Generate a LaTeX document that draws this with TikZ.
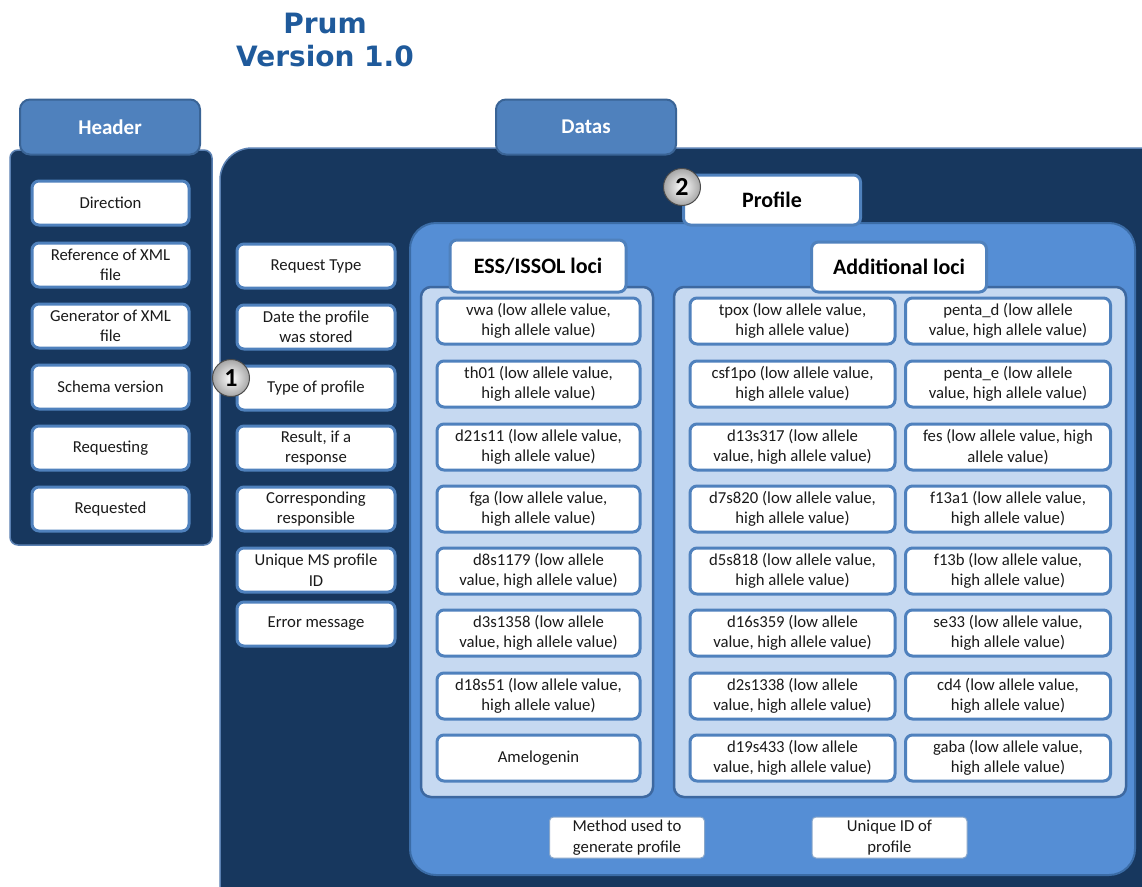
\documentclass[tikz,border=0pt]{standalone}
\usepackage{fontspec}
\setmainfont{Carlito}
\newfontfamily\titlefont{DejaVu Sans}
\definecolor{navy}{HTML}{17375E}
\definecolor{navyedge}{HTML}{5A80B2}
\definecolor{tabblue}{HTML}{4F81BD}
\definecolor{tabedge}{HTML}{3A6496}
\definecolor{profblue}{HTML}{558ED5}
\definecolor{profedge}{HTML}{3B6CA6}
\definecolor{subfill}{HTML}{C6D9F1}
\definecolor{subedge}{HTML}{3D68A0}
\definecolor{boxedge}{HTML}{4F81BD}
\definecolor{titleblue}{HTML}{1F5A9B}
\definecolor{txt}{HTML}{1A1A1A}
\tikzset{
  panel/.style={fill=navy, draw=navyedge, line width=1.5pt, rounded corners=8pt},
  tabbox/.style={fill=tabblue, draw=tabedge, line width=2pt, rounded corners=10pt, text=white, font=\bfseries\fontsize{21}{24}\selectfont},
  itembox/.style={fill=white, draw=boxedge, line width=3pt, rounded corners=7pt, align=center, text=txt, inner sep=0pt, font=\fontsize{16.7}{20.5}\selectfont},
  hbox/.style={itembox, minimum width=157pt, minimum height=44pt},
  dbox/.style={itembox, minimum width=158pt, minimum height=44pt},
  lbox/.style={itembox, minimum width=203pt, minimum height=46pt},
  lbox2/.style={itembox, minimum width=205pt, minimum height=46pt},
  headbox/.style={fill=white, draw=boxedge, line width=3pt, rounded corners=7pt, text=black, font=\bfseries\fontsize{22}{24}\selectfont},
  plainbox/.style={fill=white, draw=profedge!60, line width=1pt, rounded corners=4pt, align=center, text=txt, inner sep=0pt, font=\fontsize{16.7}{20.5}\selectfont, minimum width=155pt, minimum height=41pt},
  numball/.style={circle, minimum size=37pt, inner sep=0pt, draw=black!70, line width=1pt, inner color=white, outer color=black!35, font=\bfseries\fontsize{26}{27}\selectfont}
}
\begin{document}
\begin{tikzpicture}[x=1pt,y=-1pt]
\useasboundingbox (0,0) rectangle (1142,886);
\clip (0,0) rectangle (1142,886);
% title
\node[font=\titlefont\bfseries\fontsize{28}{33}\selectfont, text=titleblue, align=center] (title) at (325,40) {Prum\\Version 1.0};
% header panel
\draw[panel] (10,150) rectangle (212,545);
\node[tabbox, minimum width=180pt, minimum height=55pt] (htab) at (110,127) {Header};
\node[hbox] (h1) at (110.5,203) {Direction};
\node[hbox] (h2) at (110.5,265) {Reference of XML\\file};
\node[hbox] (h3) at (110.5,326) {Generator of XML\\file};
\node[hbox] (h4) at (110.5,387) {Schema version};
\node[hbox] (h5) at (110.5,448) {Requesting};
\node[hbox] (h6) at (110.5,509) {Requested};
% datas panel
\draw[panel, rounded corners=32pt] (220,148) rectangle (1180,930);
\node[tabbox, minimum width=180pt, minimum height=55pt] (dtab) at (586,127) {Datas};
\node[dbox] (d1) at (316,266) {Request Type};
\node[dbox] (d2) at (316,327) {Date the profile\\was stored};
\node[dbox] (d3) at (316,388) {Type of profile};
\node[dbox] (d4) at (316,448) {Result, if a\\response};
\node[dbox] (d5) at (316,509) {Corresponding\\responsible};
\node[dbox] (d6) at (316,570) {Unique MS profile\\ID};
\node[dbox] (d7) at (316,624) {Error message};
\node[numball] (n1) at (231,378) {1};
% profile panel
\draw[fill=profblue, draw=profedge, line width=2pt, rounded corners=26pt] (410,223) rectangle (1135,875);
\node[headbox, minimum width=177pt, minimum height=50pt] (prof) at (772,200) {Profile};
\node[numball] (n2) at (682,187) {2};
% sub panels
\draw[fill=subfill, draw=subedge, line width=2.5pt, rounded corners=10pt] (421,287) rectangle (653,797);
\draw[fill=subfill, draw=subedge, line width=2.5pt, rounded corners=10pt] (674,287) rectangle (1126,797);
\node[headbox, minimum width=176pt, minimum height=52pt] (ess) at (538,266) {ESS/ISSOL loci};
\node[headbox, minimum width=175pt, minimum height=50pt] (add) at (899,267) {Additional loci};
% ESS loci
\node[lbox] (e1) at (538.5,321) {vwa (low allele value,\\high allele value)};
\node[lbox] (e2) at (538.5,384) {th01 (low allele value,\\high allele value)};
\node[lbox] (e3) at (538.5,447) {d21s11 (low allele value,\\high allele value)};
\node[lbox] (e4) at (538.5,509) {fga (low allele value,\\high allele value)};
\node[lbox] (e5) at (538.5,571) {d8s1179 (low allele\\value, high allele value)};
\node[lbox] (e6) at (538.5,633) {d3s1358 (low allele\\value, high allele value)};
\node[lbox] (e7) at (538.5,696) {d18s51 (low allele value,\\high allele value)};
\node[lbox] (e8) at (538.5,758) {Amelogenin};
% Additional loci, left column
\node[lbox2] (a1) at (792.5,321) {tpox (low allele value,\\high allele value)};
\node[lbox2] (a2) at (792.5,384) {csf1po (low allele value,\\high allele value)};
\node[lbox2] (a3) at (792.5,447) {d13s317 (low allele\\value, high allele value)};
\node[lbox2] (a4) at (792.5,509) {d7s820 (low allele value,\\high allele value)};
\node[lbox2] (a5) at (792.5,571) {d5s818 (low allele value,\\high allele value)};
\node[lbox2] (a6) at (792.5,633) {d16s359 (low allele\\value, high allele value)};
\node[lbox2] (a7) at (792.5,696) {d2s1338 (low allele\\value, high allele value)};
\node[lbox2] (a8) at (792.5,758) {d19s433 (low allele\\value, high allele value)};
% Additional loci, right column
\node[lbox2] (b1) at (1008,321) {penta\_d (low allele\\value, high allele value)};
\node[lbox2] (b2) at (1008,384) {penta\_e (low allele\\value, high allele value)};
\node[lbox2] (b3) at (1008,447) {fes (low allele value, high\\allele value)};
\node[lbox2] (b4) at (1008,509) {f13a1 (low allele value,\\high allele value)};
\node[lbox2] (b5) at (1008,571) {f13b (low allele value,\\high allele value)};
\node[lbox2] (b6) at (1008,633) {se33 (low allele value,\\high allele value)};
\node[lbox2] (b7) at (1008,696) {cd4 (low allele value,\\high allele value)};
\node[lbox2] (b8) at (1008,758) {gaba (low allele value,\\high allele value)};
% bottom boxes
\node[plainbox] (m1) at (627,837.5) {Method used to\\generate profile};
\node[plainbox] (m2) at (889.5,837.5) {Unique ID of\\profile};
\end{tikzpicture}
\end{document}
